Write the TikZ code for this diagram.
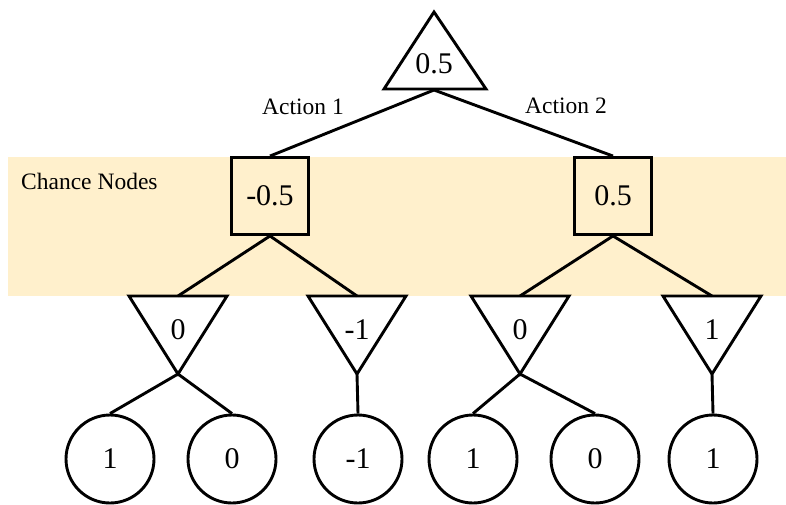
\documentclass[tikz,border=0pt]{standalone}
\usepackage{fontspec}
\setmainfont{Liberation Serif}
\begin{document}
\begin{tikzpicture}[x=1pt,y=-1pt,
  ln/.style={line width=2.9pt, line join=miter},
  sq/.style={draw, line width=2.9pt, minimum size=77pt, inner sep=0pt, font=\fontsize{30}{32}\selectfont},
  circ/.style={draw, circle, line width=2.9pt, minimum size=88pt, inner sep=0pt, font=\fontsize{30}{32}\selectfont},
  val/.style={inner sep=0pt, font=\fontsize{30}{32}\selectfont},
  lbl/.style={inner sep=0pt, font=\fontsize{23.5}{26}\selectfont}]
\useasboundingbox (0,0) rectangle (786,504);
\definecolor{band}{HTML}{FFF0CC}
\fill[band] (8,157) rectangle (786,296);
\node[lbl, anchor=west] (chance) at (21,181) {Chance Nodes};

% top triangle
\draw[ln] (434,12) -- (486,89) -- (384,89) -- cycle;
\coordinate (topb) at (434,90);
\node[val] (topv) at (434,64) {0.5};

% squares
\node[sq] (s1) at (270,196) {-0.5};
\node[sq] (s2) at (613,196) {0.5};

\node[lbl] (a1) at (303,107) {Action 1};
\node[lbl] (a2) at (566,106) {Action 2};

\draw[ln] (topb) -- (s1.north);
\draw[ln] (topb) -- (s2.north);

% down triangles
\foreach \n/\cx/\t in {t1/178/0, t2/357/-1, t3/520/0, t4/712/1}{
  \draw[ln] (\cx-49,296) -- (\cx+49,296) -- (\cx,374) -- cycle;
  \coordinate (\n top) at (\cx,296);
  \coordinate (\n bot) at (\cx,374);
  \node[val] (\n v) at (\cx,330) {\t};
}

\draw[ln] (s1.south) -- (t1top);
\draw[ln] (s1.south) -- (t2top);
\draw[ln] (s2.south) -- (t3top);
\draw[ln] (s2.south) -- (t4top);

% circles
\node[circ] (c1) at (110,459) {1};
\node[circ] (c2) at (232,459) {0};
\node[circ] (c3) at (358,459) {-1};
\node[circ] (c4) at (473,459) {1};
\node[circ] (c5) at (595,459) {0};
\node[circ] (c6) at (713,459) {1};

\draw[ln] (t1bot) -- (c1.north);
\draw[ln] (t1bot) -- (c2.north);
\draw[ln] (t2bot) -- (c3.north);
\draw[ln] (t3bot) -- (c4.north);
\draw[ln] (t3bot) -- (c5.north);
\draw[ln] (t4bot) -- (c6.north);
\end{tikzpicture}
\end{document}
